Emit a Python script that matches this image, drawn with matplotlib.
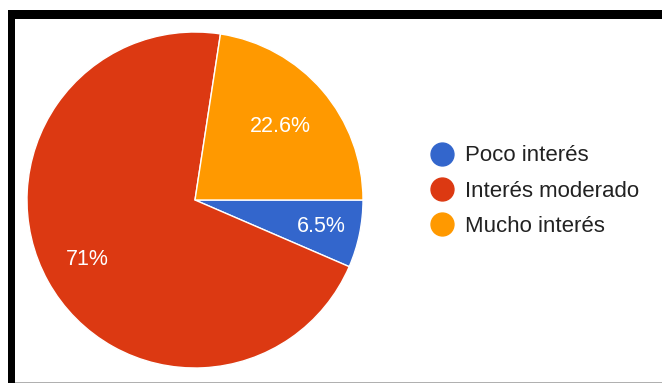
import matplotlib
matplotlib.use("Agg")
import matplotlib.pyplot as plt
from matplotlib.lines import Line2D
from matplotlib.patches import Rectangle
import numpy as np

categories = ["Poco interés", "Interés moderado", "Mucho interés"]
values = [6.5, 71, 22.6]
colors = ["#3366CC", "#DC3912", "#FF9900"]
label_radius = [0.77, 0.73, 0.67]

W, H = 662, 383
fig = plt.figure(figsize=(W / 100, H / 100), dpi=100)
plt.rcParams["font.family"] = ["Liberation Sans", "DejaVu Sans"]

# pie axes: centre (195, 200) px, radius 168 px
cx, cy, r = 195, 200, 168
ax = fig.add_axes([(cx - r) / W, (H - cy - r) / H, 2 * r / W, 2 * r / H])
wedges, _ = ax.pie(values, colors=colors, startangle=0, counterclock=False,
                   radius=1.0,
                   wedgeprops=dict(edgecolor="white", linewidth=1.0))
ax.set_xlim(-1, 1)
ax.set_ylim(-1, 1)
ax.set_aspect("equal")
ax.axis("off")

for w, v, d in zip(wedges, values, label_radius):
    ang = np.deg2rad((w.theta1 + w.theta2) / 2)
    ax.text(d * np.cos(ang), d * np.sin(ang), f"{v:g}%", color="white",
            fontsize=15.5, ha="center", va="center")

handles = [Line2D([], [], marker="o", linestyle="none", markersize=16.5,
                  markerfacecolor=c, markeredgecolor=c) for c in colors]
fig.legend(handles, categories, loc="center left",
           bbox_to_anchor=(431 / W, (H - 191) / H), frameon=False,
           fontsize=16, labelcolor="#222222", handlelength=1.0,
           handletextpad=0.53, labelspacing=0.64, borderpad=0,
           borderaxespad=0)

# frame bands around the chart
px = fig.transFigure
def band(x0, y0, x1, y1, color):
    fig.patches.append(Rectangle((x0 / W, 1 - y1 / H), (x1 - x0) / W,
                                 (y1 - y0) / H, transform=px,
                                 facecolor=color, edgecolor="none"))
band(8, 10, W, 19, "#000000")
band(8, 10, 15, H, "#000000")
band(15, H - 1.5, W, H, "#b0b0b0")

fig.savefig("out.png", dpi=100)
